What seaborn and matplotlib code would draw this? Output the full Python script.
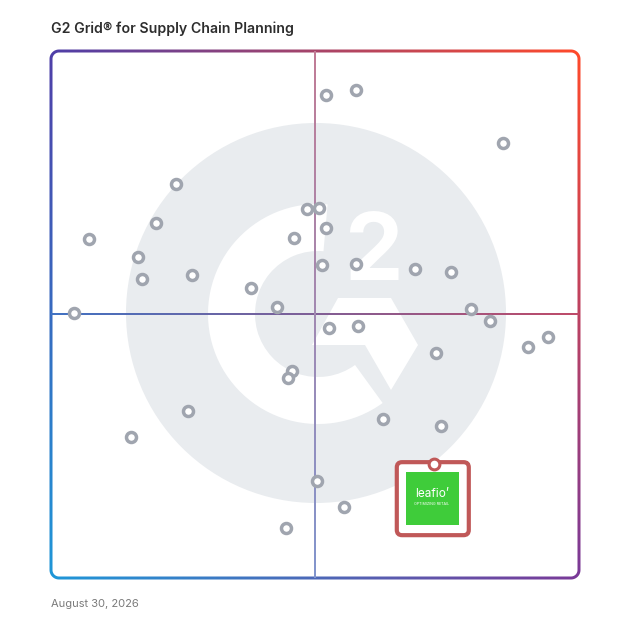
import numpy as np
import pandas as pd
import seaborn as sns
import matplotlib.pyplot as plt
from matplotlib.patches import Circle, Wedge, Polygon, FancyBboxPatch
from matplotlib.path import Path
from matplotlib.colors import to_rgb

# ==========================================
# Data: vendor positions on the grid (0-100)
# ==========================================
satisfaction = [52.1, 57.8, 85.6, 23.7, 19.9, 7.2, 16.5, 17.2, 26.7, 48.5,
                50.8, 52.0, 46.1, 51.3, 57.8, 68.9, 75.7, 37.9, 42.8, 4.4,
                79.5, 83.2, 52.6, 58.2, 94.1, 90.3, 73.0, 45.6, 44.8, 25.9,
                62.8, 73.8, 15.2, 50.4, 55.5, 44.5]
presence = [91.7, 92.6, 82.6, 74.8, 67.4, 64.3, 60.9, 56.7, 57.5, 70.0,
            70.3, 66.4, 64.6, 59.3, 59.5, 58.6, 58.1, 55.0, 51.5, 50.3,
            51.1, 48.8, 47.5, 47.8, 45.7, 43.8, 42.6, 39.2, 37.9, 31.7,
            30.2, 28.9, 26.8, 18.4, 13.5, 9.5]

highlight_name = "leafio"
highlight_x = 72.5
highlight_y = 21.6

df = pd.DataFrame({"satisfaction": satisfaction, "presence": presence})

# Style
sns.set_theme(style="white")
plt.rcParams["font.family"] = ["Inter", "DejaVu Sans"]

# gradient corner colours
TL = np.array(to_rgb("#4f3fa8"))
TR = np.array(to_rgb("#ff4a2b"))
BL = np.array(to_rgb("#1f97d8"))
BR = np.array(to_rgb("#7a3a98"))


def grad_color(u, v, fade=0.0):
    u = np.clip(u, 0, 1)[..., None]
    v = np.clip(v, 0, 1)[..., None]
    top = (1 - u) * TL + u * TR
    bot = (1 - u) * BL + u * BR
    c = v * top + (1 - v) * bot
    return c * (1 - fade) + fade  # blend towards white


def rounded_rect(x0, y0, x1, y1, rx, ry, n=16):
    pts = []
    for cx, cy, a0, a1 in [(x1 - rx, y1 - ry, 0, 90), (x0 + rx, y1 - ry, 90, 180),
                           (x0 + rx, y0 + ry, 180, 270), (x1 - rx, y0 + ry, 270, 360)]:
        t = np.radians(np.linspace(a0, a1, n))
        pts.append(np.column_stack([cx + rx * np.cos(t), cy + ry * np.sin(t)]))
    return np.vstack(pts)


fig = plt.figure(figsize=(6.28, 6.28), dpi=100)

# ==========================================
# Background watermark (G2 logo)
# ==========================================
bg = fig.add_axes([0, 0, 1, 1])
bg.set_xlim(0, 628)
bg.set_ylim(0, 628)
bg.axis("off")

bg.add_patch(Circle((316, 628 - 313), 190, color="#e9ecef", lw=0))
bg.add_patch(Wedge((318, 628 - 314), 110, 85, 306, width=47, color="white", lw=0))
chevron = [(338, 298), (391, 298), (418, 345), (391, 390), (365, 345), (312, 345)]
bg.add_patch(Polygon([(x, 628 - y) for x, y in chevron], closed=True,
                     color="white", lw=0))
bg.text(374, 628 - 280, "2", color="white", fontsize=67, fontweight="bold",
        ha="center", va="baseline")

# ==========================================
# Grid axes (0-100 maps to the frame, small margin for the border)
# ==========================================
px, py = 100 / 528, 100 / 527
m = 5
ax = fig.add_axes([(51 - m) / 628, (50 - m) / 628, (528 + 2 * m) / 628, (527 + 2 * m) / 628])
ax.patch.set_alpha(0)
ax.set_xlim(-m * px, 100 + m * px)
ax.set_ylim(-m * py, 100 + m * py)
ax.axis("off")

# gradient frame: gradient image clipped to a rounded ring
gx = np.linspace(-2, 102, 300)
GX, GY = np.meshgrid(gx / 100, gx / 100)
grad_img = grad_color(GX, GY)
im = ax.imshow(grad_img, extent=(-2, 102, -2, 102), origin="lower",
               interpolation="bilinear", aspect="auto", zorder=3)
h = 1.5
outer = rounded_rect(-h * px, -h * py, 100 + h * px, 100 + h * py, 9.5 * px, 9.5 * py)
inner = rounded_rect(h * px, h * py, 100 - h * px, 100 - h * py, 6.5 * px, 6.5 * py)
verts = np.vstack([outer, outer[:1], inner[::-1], inner[-1:]])
codes = ([Path.MOVETO] + [Path.LINETO] * (len(outer) - 1) + [Path.CLOSEPOLY]
         + [Path.MOVETO] + [Path.LINETO] * (len(inner) - 1) + [Path.CLOSEPOLY])
im.set_clip_path(Path(verts, codes), transform=ax.transData)

# quadrant lines as thin gradient strips
t = np.linspace(0, 1, 200)
hline = grad_color(t, np.full_like(t, 0.5), fade=0.05)[None, :, :]
ax.imshow(hline, extent=(0, 100, 50 - 0.8 * py, 50 + 0.8 * py), origin="lower",
          interpolation="bilinear", aspect="auto", zorder=3)
vline = grad_color(np.full_like(t, 0.5), t, fade=0.3)[:, None, :]
ax.imshow(vline, extent=(50 - 0.65 * px, 50 + 0.65 * px, 0, 100), origin="lower",
          interpolation="bilinear", aspect="auto", zorder=3)
ax.set_xlim(-m * px, 100 + m * px)
ax.set_ylim(-m * py, 100 + m * py)

# vendors
sns.scatterplot(data=df, x="satisfaction", y="presence", ax=ax, s=52,
                color="white", edgecolor="#a0a5af", linewidth=2.5,
                zorder=5, legend=False)
ax.axis("off")

# highlighted vendor card
sx, sy = 1 / 5.28, 1 / 5.27
box = FancyBboxPatch((highlight_x - 37 * sx, highlight_y - 71 * sy),
                     72 * sx, 73 * sy,
                     boxstyle="round,pad=0,rounding_size=1.0",
                     facecolor="white", edgecolor="#c05858", lw=3, zorder=6)
ax.add_patch(box)
logo = FancyBboxPatch((highlight_x - 28 * sx, highlight_y - 61 * sy),
                      53 * sx, 53 * sy, boxstyle="square,pad=0",
                      facecolor="#3fcc3a", edgecolor="none", zorder=7)
ax.add_patch(logo)
ax.scatter([highlight_x], [highlight_y], s=60, facecolor="white",
           edgecolor="#c05858", linewidth=2.2, zorder=8)
ax.text(highlight_x - 2 * sx, highlight_y - 30 * sy, highlight_name + "\u2019",
        color="white", fontsize=8.5, ha="center", va="center", zorder=9)
ax.text(highlight_x - 2 * sx, highlight_y - 40 * sy, "OPTIMIZING RETAIL",
        color="white", fontsize=2.6, ha="center", va="center", zorder=9)

# ==========================================
# Title and date
# ==========================================
fig.text(51 / 628, 1 - 29 / 628, "G2 Grid\u00ae for Supply Chain Planning",
         fontsize=10.2, fontweight="semibold", color="#2d2d2d",
         ha="left", va="center")
fig.text(51 / 628, 1 - 604 / 628, "August 30, 2026", fontsize=8,
         color="#7a7a7a", ha="left", va="center")

plt.savefig("out.png", dpi=100)
